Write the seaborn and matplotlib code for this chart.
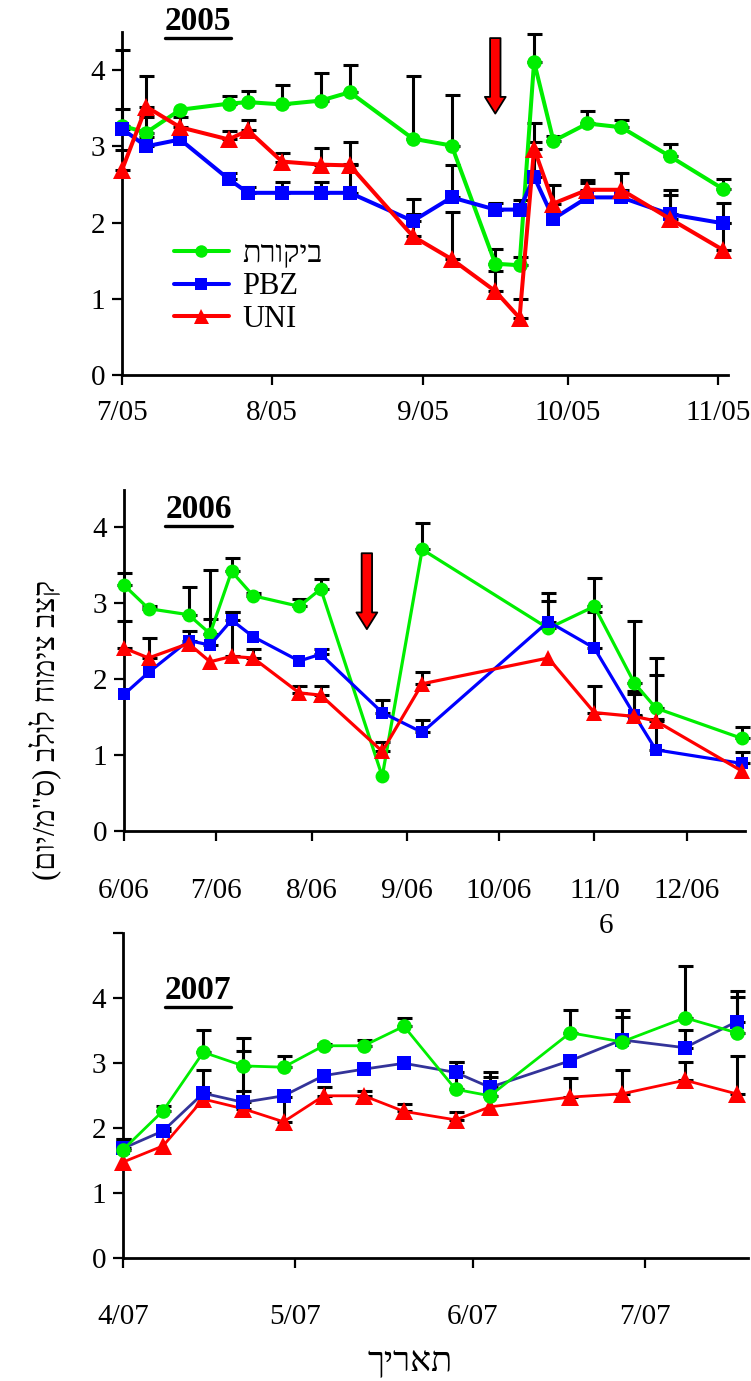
import numpy as np
import pandas as pd
import matplotlib
matplotlib.use("Agg")
import matplotlib.pyplot as plt
import matplotlib.dates as mdates
from matplotlib.lines import Line2D
import seaborn as sns

sns.set_theme(style="ticks")
plt.rcParams["font.family"] = ["Liberation Serif", "DejaVu Serif", "DejaVu Sans"]
plt.rcParams.update({
    "axes.edgecolor": "black", "text.color": "black", "axes.labelcolor": "black",
    "xtick.color": "black", "ytick.color": "black",
})

TREATMENTS = ["ביקורת", "PBZ", "UNI"]

# ---- 2005 season ----
dates_2005 = ["2005-07-01", "2005-07-06", "2005-07-13", "2005-07-23", "2005-07-27",
              "2005-08-03", "2005-08-11", "2005-08-17", "2005-08-30", "2005-09-07",
              "2005-09-16", "2005-09-21", "2005-09-24", "2005-09-28", "2005-10-05",
              "2005-10-12", "2005-10-22", "2005-11-02"]
control_2005 = [3.27, 3.18, 3.48, 3.56, 3.58, 3.55, 3.60, 3.71, 3.10, 3.01,
                1.46, 1.44, 4.11, 3.07, 3.30, 3.25, 2.87, 2.44]
control_err_2005 = [0.99, 0.20, 0.00, 0.10, 0.14, 0.25, 0.36, 0.36, 0.82, 0.67,
                    0.19, 0.11, 0.37, 0.07, 0.16, 0.09, 0.16, 0.13]
pbz_2005 = [3.23, 3.00, 3.09, 2.57, 2.39, 2.39, 2.39, 2.39, 2.02, 2.33,
            2.17, 2.17, 2.60, 2.05, 2.33, 2.33, 2.11, 1.99]
pbz_err_2005 = [0.26, 0.12, 0.00, 0.08, 0.07, 0.14, 0.14, 0.38, 0.29, 0.42,
                0.09, 0.13, 0.46, 0.00, 0.19, 0.00, 0.25, 0.27]
uni_2005 = [2.69, 3.52, 3.25, 3.09, 3.21, 2.80, 2.76, 2.75, 1.82, 1.52,
            1.10, 0.75, 2.97, 2.25, 2.43, 2.43, 2.05, 1.64]
uni_err_2005 = [0.26, 0.40, 0.13, 0.11, 0.13, 0.11, 0.22, 0.31, 0.29, 0.62,
                0.27, 0.25, 0.34, 0.24, 0.13, 0.22, 0.38, 0.35]
ticks_2005 = ["2005-07-01", "2005-08-01", "2005-09-01", "2005-10-01", "2005-11-01"]
ticklabels_2005 = ["7/05", "8/05", "9/05", "10/05", "11/05"]
arrow_2005 = ("2005-09-16", 4.42, 3.43)

# ---- 2006 season ----
dates_2006 = ["2006-06-01", "2006-06-09", "2006-06-22", "2006-06-29", "2006-07-06",
              "2006-07-13", "2006-07-28", "2006-08-04", "2006-08-24", "2006-09-06",
              "2006-10-17", "2006-11-01", "2006-11-14", "2006-11-21", "2006-12-19"]
control_2006 = [3.24, 2.93, 2.85, 2.60, 3.42, 3.10, 2.96, 3.19, 0.72, 3.71,
                2.67, 2.96, 1.95, 1.62, 1.22]
control_err_2006 = [0.16, 0.04, 0.36, 0.84, 0.18, 0.04, 0.10, 0.13, 0.00, 0.35,
                    0.47, 0.38, 0.82, 0.66, 0.15]
pbz_2006 = [1.80, 2.09, 2.51, 2.45, 2.78, 2.56, 2.24, 2.33, 1.56, 1.30,
            2.76, 2.41, 1.53, 1.07, 0.89]
pbz_err_2006 = [0.00, 0.00, 0.12, 0.35, 0.10, 0.00, 0.00, 0.07, 0.16, 0.16,
                0.27, 0.47, 0.27, 0.41, 0.15]
uni_2006 = [2.41, 2.28, 2.47, 2.23, 2.30, 2.28, 1.82, 1.79, 1.05, 1.94,
            2.28, 1.56, 1.51, 1.45, 0.79]
uni_err_2006 = [0.36, 0.26, 0.00, 0.00, 0.58, 0.12, 0.09, 0.12, 0.12, 0.15,
                0.00, 0.35, 0.33, 0.61, 0.00]
ticks_2006 = ["2006-06-01", "2006-07-01", "2006-08-01", "2006-09-01",
              "2006-10-01", "2006-11-01", "2006-12-01"]
ticklabels_2006 = ["6/06", "7/06", "8/06", "9/06", "10/06", "11/0", "12/06"]
arrow_2006 = ("2006-08-19", 3.66, 2.66)

# ---- 2007 season ----
dates_2007 = ["2007-04-01", "2007-04-08", "2007-04-15", "2007-04-22", "2007-04-29",
              "2007-05-06", "2007-05-13", "2007-05-20", "2007-05-29", "2007-06-04",
              "2007-06-18", "2007-06-27", "2007-07-08", "2007-07-17"]
control_2007 = [1.67, 2.27, 3.17, 2.96, 2.94, 3.27, 3.27, 3.57, 2.60, 2.50,
                3.47, 3.33, 3.70, 3.47]
control_err_2007 = [0.16, 0.08, 0.35, 0.43, 0.18, 0.02, 0.09, 0.12, 0.42, 0.29,
                    0.35, 0.49, 0.80, 0.65]
pbz_2007 = [1.69, 1.96, 2.54, 2.40, 2.50, 2.81, 2.91, 3.00, 2.86, 2.63,
            3.04, 3.36, 3.24, 3.64]
pbz_err_2007 = [0.14, 0.04, 0.35, 0.79, 0.00, 0.00, 0.00, 0.00, 0.16, 0.23,
                0.00, 0.35, 0.28, 0.38]
uni_2007 = [1.48, 1.73, 2.45, 2.30, 2.10, 2.50, 2.50, 2.26, 2.13, 2.33,
            2.48, 2.53, 2.74, 2.53]
uni_err_2007 = [0.00, 0.00, 0.00, 0.28, 0.38, 0.13, 0.08, 0.12, 0.12, 0.00,
                0.30, 0.36, 0.28, 0.59]
ticks_2007 = ["2007-04-01", "2007-05-01", "2007-06-01", "2007-07-01"]
ticklabels_2007 = ["4/07", "5/07", "6/07", "7/07"]

Y_LABEL = 'קצב צימוח לולב (ס"מ/יום)'
X_LABEL = "תאריך"


def visual(text):
    """Reverse a Hebrew string for left-to-right rendering, mirroring brackets."""
    swap = {"(": ")", ")": "("}
    return "".join(swap.get(c, c) for c in reversed(text))


MARKERS = {"ביקורת": "o", "PBZ": "s", "UNI": "^"}
MARKER_COLORS = {"ביקורת": "#00ee00", "PBZ": "#0000ff", "UNI": "#ff0000"}
MARKER_SCALE = {"o": 1.0, "s": 0.92, "^": 1.2}


def draw_panel(ax, dates, series, order, line_colors, lw, ms, elw, cap):
    x = pd.to_datetime(dates)
    for z, name in enumerate(order):
        vals, errs = series[name]
        vals = np.asarray(vals, float)
        errs = np.asarray(errs, float)
        sns.lineplot(x=x, y=vals, ax=ax, color=line_colors[name],
                     marker=MARKERS[name], markersize=ms * MARKER_SCALE[MARKERS[name]],
                     linewidth=lw, markeredgewidth=0,
                     markerfacecolor=MARKER_COLORS[name],
                     estimator=None, sort=False, legend=False,
                     clip_on=False, zorder=3 + z)
        m = errs > 0
        eb = ax.errorbar(x[m], vals[m], yerr=[np.zeros(m.sum()), errs[m]],
                         fmt="none", ecolor="black", elinewidth=elw,
                         capsize=cap, capthick=elw, zorder=2)
        for art in eb.get_children():
            art.set_clip_on(False)


def style_axes(ax, ticks, labels, xlim, ylim, yticks, yticklabels, xpad):
    ax.set_xlim(mdates.date2num(pd.to_datetime(xlim[0])), mdates.date2num(pd.to_datetime(xlim[1])))
    ax.set_ylim(*ylim)
    ax.set_xticks(pd.to_datetime(ticks))
    ax.set_xticklabels(labels)
    ax.set_yticks(yticks)
    ax.set_yticklabels(yticklabels)
    for side in ("top", "right"):
        ax.spines[side].set_visible(False)
    for side in ("left", "bottom"):
        ax.spines[side].set_linewidth(2)
    ax.tick_params(axis="both", direction="out", length=7, width=1.6, labelsize=21)
    ax.tick_params(axis="x", pad=xpad)
    ax.tick_params(axis="y", pad=5)
    ax.set_xlabel("")
    ax.set_ylabel("")


def add_arrow(ax, spec):
    d, top, tip = spec
    xd = mdates.date2num(pd.to_datetime(d))
    ax.annotate("", xy=(xd, tip), xytext=(xd, top),
                arrowprops=dict(arrowstyle="simple,head_length=12,head_width=15,tail_width=7.5",
                                mutation_scale=1, fc="#ff0000", ec="black", lw=1.3,
                                shrinkA=0, shrinkB=0), zorder=10)


W, H = 751, 1381
fig = plt.figure(figsize=(W / 100, H / 100), dpi=100)


def axes_px(left, right, top, bottom):
    return fig.add_axes([left / W, 1 - bottom / H, (right - left) / W, (bottom - top) / H])


ax1 = axes_px(122, 728, 32, 375)
ax2 = axes_px(124, 745, 489.5, 831)
ax3 = axes_px(123, 748, 933.3, 1258.3)

std_colors = {"ביקורת": "#00ee00", "PBZ": "#0000ff", "UNI": "#ff0000"}
p3_colors = {"ביקורת": "#00ee00", "PBZ": "#333399", "UNI": "#ff0000"}

draw_panel(ax1, dates_2005,
           {"ביקורת": (control_2005, control_err_2005), "PBZ": (pbz_2005, pbz_err_2005),
            "UNI": (uni_2005, uni_err_2005)},
           ["ביקורת", "PBZ", "UNI"], std_colors, lw=2.9, ms=10.5, elw=2.2, cap=5.4)
draw_panel(ax2, dates_2006,
           {"ביקורת": (control_2006, control_err_2006), "PBZ": (pbz_2006, pbz_err_2006),
            "UNI": (uni_2006, uni_err_2006)},
           ["ביקורת", "PBZ", "UNI"], std_colors, lw=2.3, ms=10.0, elw=2.2, cap=5.4)
draw_panel(ax3, dates_2007,
           {"ביקורת": (control_2007, control_err_2007), "PBZ": (pbz_2007, pbz_err_2007),
            "UNI": (uni_2007, uni_err_2007)},
           ["UNI", "PBZ", "ביקורת"], p3_colors, lw=2.0, ms=10.5, elw=2.2, cap=5.4)

style_axes(ax1, ticks_2005, ticklabels_2005, ("2005-07-01", "2005-11-03"), (0, 4.5),
           [0, 1, 2, 3, 4], ["0", "1", "2", "3", "4"], xpad=11)
style_axes(ax2, ticks_2006, ticklabels_2006, ("2006-06-01", "2006-12-20"), (0, 4.5),
           [0, 1, 2, 3, 4], ["0", "1", "2", "3", "4"], xpad=27)
style_axes(ax3, ticks_2007, ticklabels_2007, ("2007-04-01", "2007-07-19"), (0, 5),
           [0, 1, 2, 3, 4, 5], ["0", "1", "2", "3", "4", ""], xpad=26)

add_arrow(ax1, arrow_2005)
add_arrow(ax2, arrow_2006)

# legend in the first panel
handles = [Line2D([], [], color=std_colors[n], marker=MARKERS[n],
                  markersize=9 * MARKER_SCALE[MARKERS[n]],
                  markerfacecolor=MARKER_COLORS[n], markeredgewidth=0, lw=2.9)
           for n in TREATMENTS]
ax1.legend(handles, [visual(n) if n == "ביקורת" else n for n in TREATMENTS],
           loc="upper left", bbox_to_anchor=(0.065, 0.43), frameon=False,
           fontsize=22, handlelength=1.8, labelspacing=0.12, handletextpad=0.45,
           borderaxespad=0)

# season titles (bold, underlined)
year_texts = [
    ax1.text(0.125, 1.03, "2005", transform=ax1.transAxes, ha="center", va="center",
             fontsize=24, fontweight="bold"),
    ax2.text(0.12, 0.94, "2006", transform=ax2.transAxes, ha="center", va="center",
             fontsize=24, fontweight="bold"),
    ax3.text(0.12, 0.825, "2007", transform=ax3.transAxes, ha="center", va="center",
             fontsize=24, fontweight="bold"),
]

fig.text(606 / W, 1 - 926 / H, "6", ha="center", va="center", fontsize=21)
fig.text(45 / W, 1 - 730 / H, visual(Y_LABEL), rotation=90, ha="center", va="center",
         fontsize=22)
fig.text(410 / W, 1 - 1362 / H, visual(X_LABEL), ha="center", va="center", fontsize=25)

fig.canvas.draw()
renderer = fig.canvas.get_renderer()
for t in year_texts:
    bb = t.get_window_extent(renderer)
    y = (bb.y0 - 1.0) / H
    fig.add_artist(Line2D([bb.x0 / W, bb.x1 / W], [y, y], color="black", lw=2.4,
                          transform=fig.transFigure))

fig.savefig("out.png", dpi=100)
